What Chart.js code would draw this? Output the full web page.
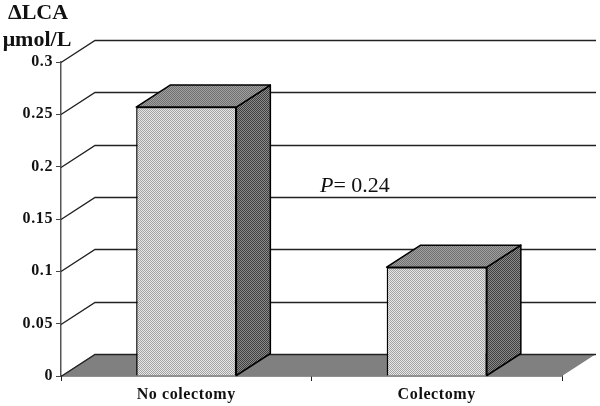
<!DOCTYPE html>
<html>
<head>
<meta charset="utf-8">
<script src="https://cdn.jsdelivr.net/npm/chart.js@4"></script>
<style>
  body { margin: 0; background: #fff; }
</style>
</head>
<body>
<canvas id="lcaChart" width="600" height="406"></canvas>
<script>
const categories = ['No colectomy', 'Colectomy'];
const deltaLca = [0.257, 0.104];
const yTickLabels = ['0', '0.05', '0.1', '0.15', '0.2', '0.25', '0.3'];
const titleLines = ['ΔLCA', 'μmol/L'];

// 3D look: how far the back wall sits from the front plane
const depthX = 34;
const depthY = -22;
const lineColor = '#222';

// fine dither like the old spreadsheet fill
function dither(light, dark) {
  const c = document.createElement('canvas');
  c.width = 2;
  c.height = 2;
  const g = c.getContext('2d');
  g.fillStyle = light;
  g.fillRect(0, 0, 2, 2);
  g.fillStyle = dark;
  g.fillRect(0, 0, 1, 1);
  g.fillRect(1, 1, 1, 1);
  return g.createPattern(c, 'repeat');
}

const threeD = {
  id: 'threeD',
  beforeDraw(chart) {
    // the reference labels are set wide
    chart.ctx.letterSpacing = '0.6px';
  },
  beforeDatasetsDraw(chart) {
    const ctx = chart.ctx;
    const { left, right, bottom } = chart.chartArea;
    const y = chart.scales.y;
    ctx.save();

    // floor
    ctx.fillStyle = '#808080';
    ctx.beginPath();
    ctx.moveTo(left, bottom);
    ctx.lineTo(left + depthX, bottom + depthY);
    ctx.lineTo(right + depthX, bottom + depthY);
    ctx.lineTo(right, bottom);
    ctx.closePath();
    ctx.fill();

    // grid lines going back and across the wall
    ctx.strokeStyle = lineColor;
    ctx.lineWidth = 1.4;
    y.ticks.forEach(t => {
      const py = Math.round(y.getPixelForValue(t.value)) + 0.5;
      ctx.beginPath();
      ctx.moveTo(left, py);
      ctx.lineTo(left + depthX, py + depthY);
      ctx.lineTo(right + depthX, py + depthY);
      ctx.stroke();
    });

    // side and top of each bar
    const sideFill = dither('#8a8a8a', '#404040');
    const topFill = dither('#a0a0a0', '#707070');
    ctx.strokeStyle = '#000';
    ctx.lineWidth = 1.5;
    ctx.lineJoin = 'round';
    chart.getDatasetMeta(0).data.forEach(bar => {
      const l = bar.x - bar.width / 2;
      const r = bar.x + bar.width / 2;
      ctx.fillStyle = sideFill;
      ctx.beginPath();
      ctx.moveTo(r, bar.y);
      ctx.lineTo(r + depthX, bar.y + depthY);
      ctx.lineTo(r + depthX, bar.base + depthY);
      ctx.lineTo(r, bar.base);
      ctx.closePath();
      ctx.fill();
      ctx.stroke();
      ctx.fillStyle = topFill;
      ctx.beginPath();
      ctx.moveTo(l, bar.y);
      ctx.lineTo(l + depthX, bar.y + depthY);
      ctx.lineTo(r + depthX, bar.y + depthY);
      ctx.lineTo(r, bar.y);
      ctx.closePath();
      ctx.fill();
      ctx.stroke();
    });
    ctx.restore();
  },
  afterDraw(chart) {
    const ctx = chart.ctx;
    ctx.save();
    ctx.letterSpacing = '0px';
    // unit title over the y axis
    ctx.fillStyle = '#111';
    ctx.font = 'bold 22px "Liberation Serif"';
    ctx.textAlign = 'center';
    ctx.textBaseline = 'alphabetic';
    ctx.fillText(titleLines[0], 38, 19);
    ctx.fillText(titleLines[1], 37, 46);

    // p value
    ctx.textAlign = 'left';
    ctx.font = 'italic 22px "Liberation Serif"';
    ctx.fillText('P', 320, 192);
    const w = ctx.measureText('P').width;
    ctx.font = '22px "Liberation Serif"';
    ctx.fillText('= 0.24', 320 + w, 192);
    ctx.restore();
  }
};

new Chart(document.getElementById('lcaChart'), {
  type: 'bar',
  data: {
    labels: categories,
    datasets: [{
      data: deltaLca,
      backgroundColor: dither('#e6e6e6', '#a4a4a4'),
      borderColor: '#000',
      borderWidth: 1.5,
      categoryPercentage: 1,
      barPercentage: 0.4
    }]
  },
  options: {
    responsive: false,
    animation: false,
    layout: { padding: { top: 62, right: 38, left: 0, bottom: 0 } },
    plugins: {
      legend: { display: false },
      title: { display: false },
      tooltip: { enabled: false }
    },
    scales: {
      x: {
        afterFit(scale) { scale.height = 30; },
        border: { color: lineColor, width: 1.5 },
        grid: { drawOnChartArea: false, drawTicks: true, tickLength: 5, color: lineColor },
        ticks: {
          color: '#111',
          padding: 4,
          maxRotation: 0,
          font: { family: 'Liberation Serif', size: 16, weight: 'bold' }
        }
      },
      y: {
        min: 0,
        max: 0.3,
        afterFit(scale) { scale.width = 61; },
        border: { color: '#555', width: 1.5 },
        grid: { drawOnChartArea: false, drawTicks: true, tickLength: 5, color: '#444' },
        ticks: {
          stepSize: 0.05,
          color: '#111',
          padding: 3,
          font: { family: 'Liberation Serif', size: 16, weight: 'bold' },
          callback: (v, i) => yTickLabels[i]
        }
      }
    }
  },
  plugins: [threeD]
});
</script>
</body>
</html>
